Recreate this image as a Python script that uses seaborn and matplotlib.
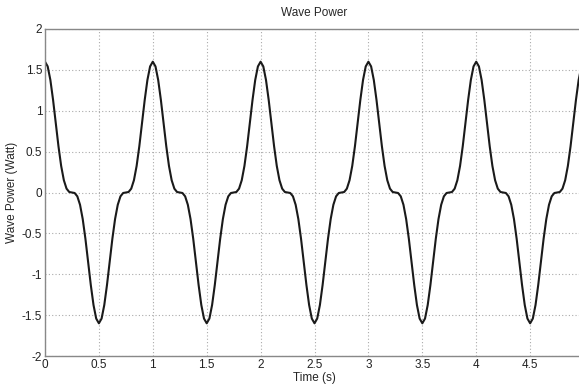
import matplotlib
matplotlib.use("Agg")
import matplotlib.pyplot as plt
import numpy as np
import pandas as pd
import seaborn as sns

# time axis (s), sampled every 0.025 s
time_s = np.round(np.arange(0, 5.0001, 0.025), 3)

# wave power (Watt)
power_w = [
    1.6, 1.542, 1.376, 1.132, 0.847, 0.566, 0.325, 0.150, 0.047, 0.006,
    0.0, -0.006, -0.047, -0.150, -0.325, -0.566, -0.847, -1.132, -1.376, -1.542,
    -1.6, -1.542, -1.376, -1.132, -0.847, -0.566, -0.325, -0.150, -0.047, -0.006,
    0.0, 0.006, 0.047, 0.150, 0.325, 0.566, 0.847, 1.132, 1.376, 1.542,
    1.6, 1.542, 1.376, 1.132, 0.847, 0.566, 0.325, 0.150, 0.047, 0.006,
    0.0, -0.006, -0.047, -0.150, -0.325, -0.566, -0.847, -1.132, -1.376, -1.542,
    -1.6, -1.542, -1.376, -1.132, -0.847, -0.566, -0.325, -0.150, -0.047, -0.006,
    0.0, 0.006, 0.047, 0.150, 0.325, 0.566, 0.847, 1.132, 1.376, 1.542,
    1.6, 1.542, 1.376, 1.132, 0.847, 0.566, 0.325, 0.150, 0.047, 0.006,
    0.0, -0.006, -0.047, -0.150, -0.325, -0.566, -0.847, -1.132, -1.376, -1.542,
    -1.6, -1.542, -1.376, -1.132, -0.847, -0.566, -0.325, -0.150, -0.047, -0.006,
    0.0, 0.006, 0.047, 0.150, 0.325, 0.566, 0.847, 1.132, 1.376, 1.542,
    1.6, 1.542, 1.376, 1.132, 0.847, 0.566, 0.325, 0.150, 0.047, 0.006,
    0.0, -0.006, -0.047, -0.150, -0.325, -0.566, -0.847, -1.132, -1.376, -1.542,
    -1.6, -1.542, -1.376, -1.132, -0.847, -0.566, -0.325, -0.150, -0.047, -0.006,
    0.0, 0.006, 0.047, 0.150, 0.325, 0.566, 0.847, 1.132, 1.376, 1.542,
    1.6, 1.542, 1.376, 1.132, 0.847, 0.566, 0.325, 0.150, 0.047, 0.006,
    0.0, -0.006, -0.047, -0.150, -0.325, -0.566, -0.847, -1.132, -1.376, -1.542,
    -1.6, -1.542, -1.376, -1.132, -0.847, -0.566, -0.325, -0.150, -0.047, -0.006,
    0.0, 0.006, 0.047, 0.150, 0.325, 0.566, 0.847, 1.132, 1.376, 1.542,
    1.6,
]

x_ticks = [0, 0.5, 1, 1.5, 2, 2.5, 3, 3.5, 4, 4.5, 5]
x_labels = ["0", "0.5", "1", "1.5", "2", "2.5", "3", "3.5", "4", "4.5", ""]
y_ticks = [-2, -1.5, -1, -0.5, 0, 0.5, 1, 1.5, 2]
y_labels = ["-2", "-1.5", "-1", "-0.5", "0", "0.5", "1", "1.5", "2"]

df = pd.DataFrame({"t": time_s, "p": power_w})

sns.set_style("white")
plt.rcParams['font.family'] = ['Liberation Sans', 'DejaVu Sans']

fig = plt.figure(figsize=(5.79, 3.85), dpi=100)
ax = fig.add_axes([0.0777, 0.0753, 0.931, 0.8494])

sns.lineplot(data=df, x="t", y="p", color="#1a1a1a", linewidth=1.5, ax=ax)

ax.set_xlim(0, 5)
ax.set_ylim(-2, 2)
ax.set_xticks(x_ticks)
ax.set_xticklabels(x_labels)
ax.set_yticks(y_ticks)
ax.set_yticklabels(y_labels)
ax.grid(True, linestyle=(0, (1, 2)), color="#aaaaaa", linewidth=0.8)
ax.tick_params(direction="in", length=3, labelsize=8.5, colors="#222222", pad=2)
for s in ax.spines.values():
    s.set_color("#888888")
    s.set_linewidth(1.0)

ax.set_title("Wave Power", fontsize=8.5, pad=9)
ax.set_xlabel("Time (s)", fontsize=8.5, labelpad=1)
ax.set_ylabel("Wave Power (Watt)", fontsize=8.5, labelpad=3)

fig.savefig("out.png", dpi=100)
